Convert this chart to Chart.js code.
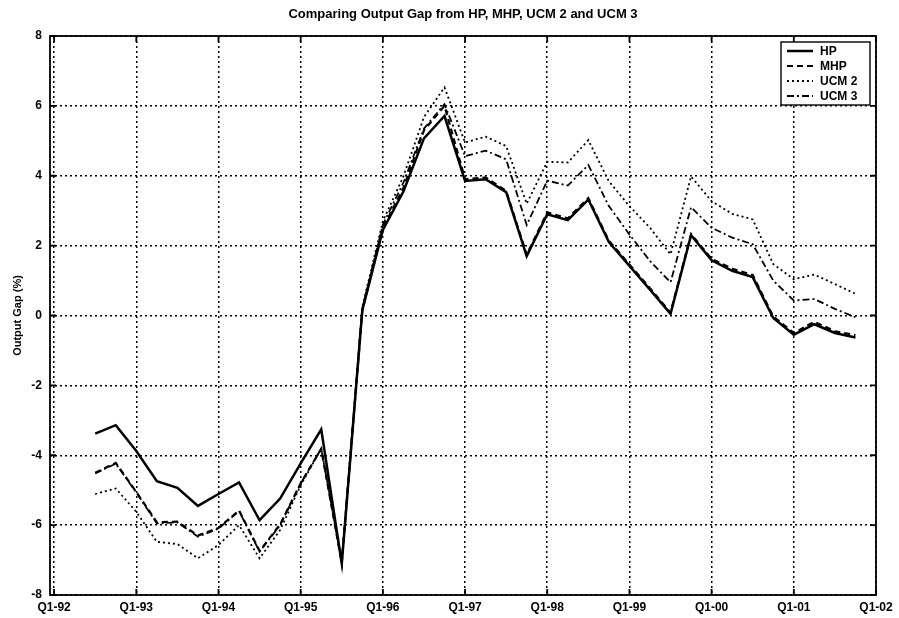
<!DOCTYPE html>
<html>
<head>
<meta charset="utf-8">
<script src="https://cdn.jsdelivr.net/npm/chart.js@4.4.1/dist/chart.umd.min.js"></script>
<style>
  body { margin: 0; background: #fff; }
  canvas { display: block; }
</style>
</head>
<body>
<canvas id="gapChart" width="899" height="618"></canvas>
<script>
// quarter index, 0 = Q1-92
const quarters = [2, 3, 4, 5, 6, 7, 8, 9, 10, 11, 12, 13, 14, 15, 16, 17, 18, 19, 20,
    21, 22, 23, 24, 25, 26, 27, 28, 29, 30, 31, 32, 33, 34, 35, 36, 37, 38, 39];
const tickLabels = ['Q1-92', 'Q1-93', 'Q1-94', 'Q1-95', 'Q1-96', 'Q1-97',
    'Q1-98', 'Q1-99', 'Q1-00', 'Q1-01', 'Q1-02'];
const yTicks = [-8, -6, -4, -2, 0, 2, 4, 6, 8];

const hp = [-3.38, -3.14, -3.88, -4.74, -4.93, -5.45, -5.11, -4.78, -5.86, -5.24, -4.23, -3.26,
    -7.10, 0.15, 2.45, 3.55, 5.07, 5.71, 3.85, 3.90, 3.53, 1.70, 2.90, 2.73, 3.32, 2.10,
    1.42, 0.74, 0.05, 2.30, 1.58, 1.28, 1.10, -0.07, -0.55, -0.25, -0.50, -0.63];
const mhp = [-4.50, -4.22, -5.05, -5.92, -5.90, -6.30, -6.08, -5.58, -6.74, -5.98, -4.80, -3.82,
    -7.08, 0.15, 2.50, 3.65, 5.30, 6.00, 3.90, 3.95, 3.57, 1.74, 2.95, 2.78, 3.36, 2.14,
    1.46, 0.78, 0.08, 2.33, 1.62, 1.34, 1.16, -0.03, -0.50, -0.18, -0.45, -0.56];
const ucm2 = [-5.11, -4.95, -5.62, -6.48, -6.54, -6.95, -6.57, -6.00, -6.95, -6.14, -4.86, -3.81,
    -7.05, 0.25, 2.70, 3.98, 5.68, 6.53, 4.95, 5.12, 4.85, 3.20, 4.40, 4.38, 5.02, 3.84,
    3.13, 2.51, 1.75, 3.98, 3.27, 2.91, 2.75, 1.47, 1.04, 1.17, 0.90, 0.62];
const ucm3 = [-4.52, -4.24, -5.07, -5.95, -5.92, -6.33, -6.10, -5.60, -6.76, -6.00, -4.81, -3.81,
    -7.05, 0.20, 2.60, 3.80, 5.35, 6.05, 4.56, 4.72, 4.47, 2.59, 3.86, 3.72, 4.31, 3.13,
    2.32, 1.56, 0.95, 3.10, 2.51, 2.23, 2.04, 1.00, 0.43, 0.47, 0.19, -0.05];

const chartTitle = 'Comparing Output Gap from HP, MHP, UCM 2 and UCM 3';
const FONT = '"Liberation Sans", Arial, sans-serif';

function pts(vals) {
    return quarters.map((q, i) => ({ x: q, y: vals[i] }));
}

function series(label, vals, dash, width) {
    return {
        label: label,
        data: pts(vals),
        borderColor: '#000',
        borderWidth: width,
        borderDash: dash,
        pointRadius: 0,
        tension: 0,
        fill: false
    };
}

// frame, inward ticks, title and boxed legend like the matlab figure
const decorations = {
    id: 'decorations',
    afterDraw(chart) {
        const ctx = chart.ctx;
        const a = chart.chartArea;
        const x = chart.scales.x, y = chart.scales.y;
        ctx.save();
        ctx.strokeStyle = '#000';
        ctx.setLineDash([]);
        ctx.lineWidth = 1.8;
        ctx.strokeRect(a.left, a.top, a.right - a.left, a.bottom - a.top);

        ctx.beginPath();
        x.ticks.forEach(t => {
            const px = x.getPixelForValue(t.value);
            ctx.moveTo(px, a.bottom); ctx.lineTo(px, a.bottom - 6);
            ctx.moveTo(px, a.top); ctx.lineTo(px, a.top + 6);
        });
        y.ticks.forEach(t => {
            const py = y.getPixelForValue(t.value);
            ctx.moveTo(a.left, py); ctx.lineTo(a.left + 6, py);
            ctx.moveTo(a.right, py); ctx.lineTo(a.right - 6, py);
        });
        ctx.stroke();

        ctx.fillStyle = '#000';
        ctx.font = 'bold 13px ' + FONT;
        ctx.textAlign = 'center';
        ctx.textBaseline = 'middle';
        ctx.fillText(chartTitle, (a.left + a.right) / 2, 14);

        // legend
        const bw = 89, bh = 63;
        const bx = a.right - 6 - bw, by = a.top + 6;
        ctx.fillStyle = '#fff';
        ctx.fillRect(bx, by, bw, bh);
        ctx.lineWidth = 1.4;
        ctx.strokeRect(bx, by, bw, bh);
        ctx.font = 'bold 12px ' + FONT;
        ctx.textAlign = 'left';
        chart.data.datasets.forEach((ds, i) => {
            const ry = by + 9 + i * 15;
            ctx.beginPath();
            ctx.lineWidth = ds.borderWidth;
            ctx.setLineDash(ds.borderDash);
            ctx.moveTo(bx + 6, ry);
            ctx.lineTo(bx + 32, ry);
            ctx.stroke();
            ctx.setLineDash([]);
            ctx.fillStyle = '#000';
            ctx.fillText(ds.label, bx + 39, ry + 1);
        });
        ctx.restore();
    }
};

new Chart(document.getElementById('gapChart'), {
    type: 'line',
    data: {
        datasets: [
            series('HP', hp, [], 2.5),
            series('MHP', mhp, [6, 4], 2.2),
            series('UCM 2', ucm2, [2, 3], 1.8),
            series('UCM 3', ucm3, [7, 3, 2, 3], 1.8)
        ]
    },
    options: {
        responsive: false,
        animation: false,
        devicePixelRatio: 1,
        layout: { padding: { left: 0, top: 36, right: 23, bottom: 0 } },
        plugins: {
            legend: { display: false },
            title: { display: false },
            tooltip: { enabled: false }
        },
        scales: {
            x: {
                type: 'linear',
                min: -0.2,
                max: 40,
                afterBuildTicks: s => { s.ticks = tickLabels.map((_, i) => ({ value: i * 4 })); },
                afterFit: s => { s.height = 23; },
                ticks: {
                    color: '#000',
                    font: { family: FONT, size: 12, weight: 'bold' },
                    padding: 5,
                    maxRotation: 0,
                    autoSkip: false,
                    callback: v => tickLabels[Math.round(v / 4)]
                },
                grid: { color: '#000', lineWidth: 1.5, drawTicks: false },
                border: { display: false, dash: [2, 3] }
            },
            y: {
                min: -8,
                max: 8,
                afterBuildTicks: s => { s.ticks = yTicks.map(v => ({ value: v })); },
                afterFit: s => { s.width = 50; },
                ticks: {
                    color: '#000',
                    font: { family: FONT, size: 12, weight: 'bold' },
                    padding: 8
                },
                title: {
                    display: true,
                    text: 'Output Gap (%)',
                    color: '#000',
                    font: { family: FONT, size: 11, weight: 'bold' },
                    padding: { top: 11, bottom: 0 }
                },
                grid: { color: '#000', lineWidth: 1.5, drawTicks: false },
                border: { display: false, dash: [2, 3] }
            }
        }
    },
    plugins: [decorations]
});
</script>
</body>
</html>
